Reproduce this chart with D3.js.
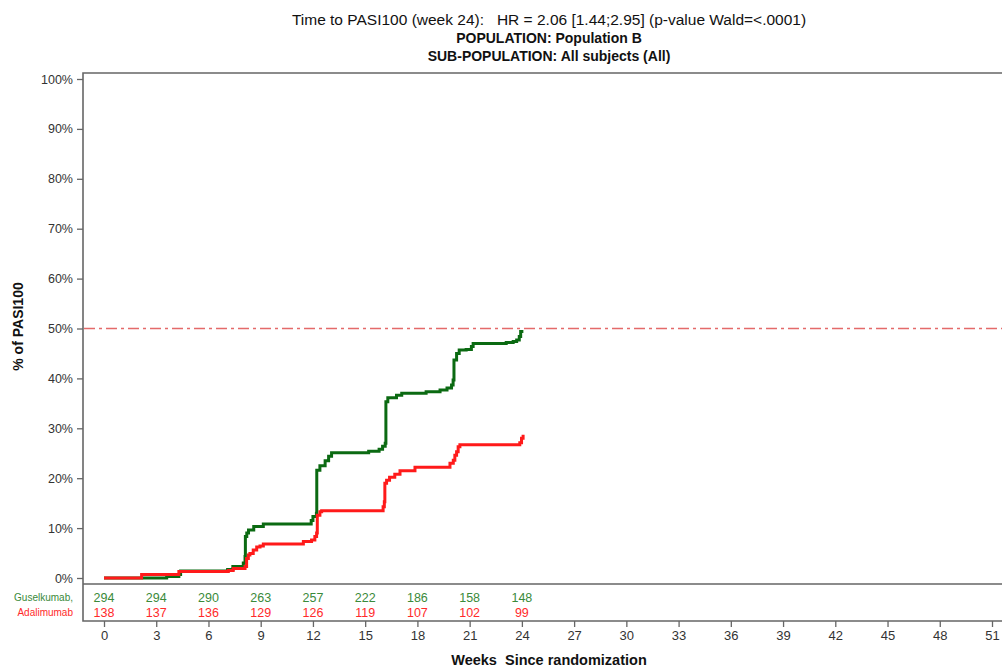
<!DOCTYPE html>
<html>
<head>
<meta charset="utf-8">
<script src="https://cdn.jsdelivr.net/npm/d3@7"></script>
<style>
  body { margin: 0; background: #fff; }
  svg { display: block; font-family: Arial, "Liberation Sans", sans-serif; }
</style>
</head>
<body>
<div id="chart"></div>
<script>
// Kaplan-Meier style cumulative response, [week, % of PASI100]
const guselkumab = [
  [0, 0], [3.6, 0.3], [4.3, 0.7], [4.4, 1.4], [7.1, 1.7], [7.4, 2.3], [8.0, 3.0],
  [8.1, 4.3], [8.12, 8.3], [8.2, 9.0], [8.3, 9.6], [8.6, 10.3], [9.15, 10.8],
  [11.9, 11.5], [12.0, 12.3], [12.2, 13.0], [12.22, 21.6], [12.4, 22.5], [12.7, 23.5],
  [12.9, 24.4], [13.07, 25.1], [15.2, 25.4], [15.8, 25.8], [16.0, 26.4], [16.15, 27.0],
  [16.19, 35.3], [16.3, 36.1], [16.8, 36.6], [17.1, 37.0], [18.5, 37.3], [19.3, 37.7],
  [19.7, 38.1], [19.96, 38.7], [20.05, 39.7], [20.1, 43.7], [20.25, 45.0], [20.4, 45.7],
  [20.8, 45.8], [21.1, 46.4], [21.2, 47.0], [22.7, 47.0], [23.1, 47.2], [23.5, 47.4],
  [23.7, 47.7], [23.85, 48.4], [23.93, 49.4], [24.0, 49.7]
];
const adalimumab = [
  [0, 0], [2.16, 0.7], [4.3, 1.3], [7.14, 1.5], [7.42, 1.9], [8.1, 2.3], [8.19, 3.9],
  [8.29, 4.6], [8.38, 4.9], [8.57, 5.6], [8.77, 6.2], [8.96, 6.4], [9.15, 6.8],
  [11.45, 7.3], [11.92, 7.6], [12.11, 8.3], [12.21, 9.0], [12.25, 12.6], [12.4, 13.3],
  [12.5, 13.5], [16.03, 14.3], [16.1, 15.3], [16.13, 19.0], [16.23, 19.6], [16.4, 20.2],
  [16.7, 20.8], [17.0, 21.5], [17.86, 22.2], [19.87, 23.0], [20.06, 23.6], [20.15, 24.6],
  [20.25, 25.3], [20.34, 26.3], [20.44, 26.7], [23.88, 27.1], [23.98, 28.0], [24.07, 28.7]
];

const riskWeeks = [0, 3, 6, 9, 12, 15, 18, 21, 24];
const riskGuselkumab = [294, 294, 290, 263, 257, 222, 186, 158, 148];
const riskAdalimumab = [138, 137, 136, 129, 126, 119, 107, 102, 99];

const xTicks = d3.range(0, 52, 3);
const yTicks = d3.range(0, 101, 10);

const width = 1002, height = 667;
const frame = { left: 83, top: 73, plotBottom: 584, riskBottom: 621, right: 1002 };

const svg = d3.select('#chart').append('svg')
  .attr('width', width)
  .attr('height', height);

const x = d3.scaleLinear().domain([0, 51]).range([104, 992]);
const y = d3.scaleLinear().domain([0, 100]).range([578, 79]);

// titles
const titles = [
  { t: 'Time to PASI100 (week 24):   HR = 2.06 [1.44;2.95] (p-value Wald=<.0001)', y: 25, w: 'normal', s: 15.5 },
  { t: 'POPULATION: Population B', y: 43, w: 'bold', s: 14 },
  { t: 'SUB-POPULATION: All subjects (All)', y: 61, w: 'bold', s: 14 }
];
svg.selectAll('text.title').data(titles).join('text')
  .attr('class', 'title')
  .attr('x', 549)
  .attr('y', d => d.y)
  .attr('text-anchor', 'middle')
  .attr('xml:space', 'preserve')
  .style('white-space', 'pre')
  .style('font-size', d => d.s + 'px')
  .style('font-weight', d => d.w)
  .style('fill', '#111')
  .text(d => d.t);

// frame lines
const frameColor = '#666';
svg.append('path')
  .attr('d', `M${frame.right},${frame.top}H${frame.left}V${frame.riskBottom}H${frame.right}M${frame.left},${frame.plotBottom}H${frame.right}`)
  .attr('fill', 'none')
  .attr('stroke', frameColor)
  .attr('stroke-width', 1.6);

// y axis
const yAxis = svg.append('g')
  .attr('transform', `translate(${frame.left},0)`)
  .call(d3.axisLeft(y).tickValues(yTicks).tickFormat(d => d + '%').tickSize(6).tickPadding(4));
yAxis.select('.domain').remove();
yAxis.selectAll('line').attr('stroke', frameColor).attr('stroke-width', 1.3);
yAxis.selectAll('text').style('font-size', '12.5px').style('fill', '#333')
  .style('font-family', 'Arial, "Liberation Sans", sans-serif');

// x axis
const xAxis = svg.append('g')
  .attr('transform', `translate(0,${frame.riskBottom})`)
  .call(d3.axisBottom(x).tickValues(xTicks).tickSize(6).tickPadding(4));
xAxis.select('.domain').remove();
xAxis.selectAll('line').attr('stroke', frameColor).attr('stroke-width', 1.3);
xAxis.selectAll('text').style('font-size', '13px').style('fill', '#333')
  .style('font-family', 'Arial, "Liberation Sans", sans-serif');

// axis titles
svg.append('text')
  .attr('transform', `translate(23,${(y(0) + y(100)) / 2 - 2}) rotate(-90)`)
  .attr('text-anchor', 'middle')
  .style('font-size', '14px')
  .style('font-weight', 'bold')
  .style('fill', '#111')
  .text('% of PASI100');

svg.append('text')
  .attr('x', 549)
  .attr('y', 665)
  .attr('text-anchor', 'middle')
  .style('font-size', '14.5px')
  .style('font-weight', 'bold')
  .style('fill', '#111')
  .style('white-space', 'pre')
  .attr('xml:space', 'preserve')
  .text('Weeks  Since randomization');

// 50% reference line
svg.append('line')
  .attr('x1', frame.left + 1)
  .attr('x2', frame.right)
  .attr('y1', y(50))
  .attr('y2', y(50))
  .attr('stroke', '#e46a6a')
  .attr('stroke-width', 1.5)
  .attr('stroke-dasharray', '11,4,3,4');

// curves
const line = d3.line()
  .x(d => x(d[0]))
  .y(d => y(d[1]))
  .curve(d3.curveStepAfter);

svg.append('path')
  .datum(guselkumab)
  .attr('d', line)
  .attr('fill', 'none')
  .attr('stroke', '#0b6a12')
  .attr('stroke-width', 3);

svg.append('path')
  .datum(adalimumab)
  .attr('d', line)
  .attr('fill', 'none')
  .attr('stroke', '#ff1a1a')
  .attr('stroke-width', 3);

// numbers at risk
const riskRows = [
  { name: 'Guselkumab,', values: riskGuselkumab, color: '#3a8a3a', y: 602 },
  { name: 'Adalimumab', values: riskAdalimumab, color: '#ff2a2a', y: 617 }
];
riskRows.forEach(row => {
  svg.append('text')
    .attr('x', 73)
    .attr('y', row.y - 1)
    .attr('text-anchor', 'end')
    .style('font-size', '10px')
    .style('fill', row.color)
    .text(row.name);
  svg.selectAll(null).data(row.values).join('text')
    .attr('x', (d, i) => x(riskWeeks[i]))
    .attr('y', row.y)
    .attr('text-anchor', 'middle')
    .style('font-size', '12.5px')
    .style('fill', row.color)
    .text(d => d);
});
</script>
</body>
</html>
